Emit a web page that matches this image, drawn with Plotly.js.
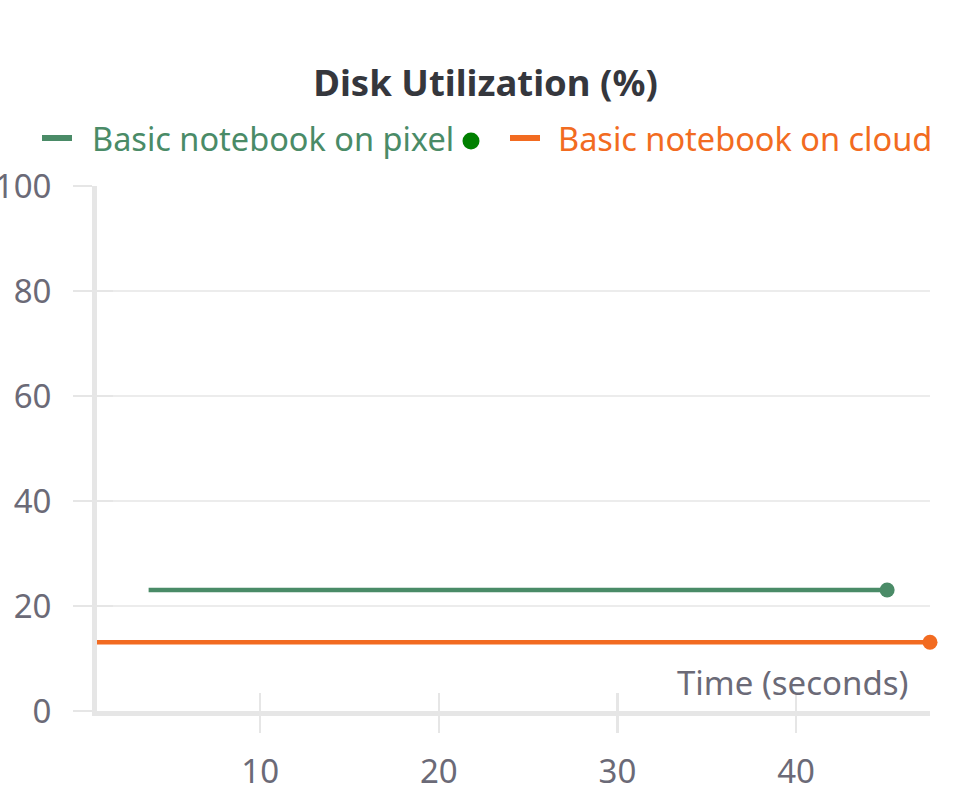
<!DOCTYPE html>
<html>
<head>
<meta charset="utf-8">
<script src="https://cdn.plot.ly/plotly-3.0.1.min.js"></script>
<style>
  html, body { margin: 0; padding: 0; background: #ffffff; }
  #chart { width: 971px; height: 785px; }
</style>
</head>
<body>
<div id="chart"></div>
<script>
// Data
const seriesNames = ["Basic notebook on pixel", "Basic notebook on cloud"];
const pixelTime = [3.75, 45.1];
const pixelDisk = [23.05, 23.05];
const cloudTime = [0.86, 47.5];
const cloudDisk = [13.1, 13.1];
const xTickVals = [10, 20, 30, 40];
const yTickVals = [0, 20, 40, 60, 80, 100];

const greenColor = "#4a8b67";
const orangeColor = "#f26b21";
const axisGray = "#e6e6e6";
const textGray = "#6b6a77";
const fontFamily = "'Noto Sans', 'Open Sans', sans-serif";

const seriesColors = [greenColor, orangeColor];

const traces = [
  {
    x: pixelTime, y: pixelDisk, name: seriesNames[0], type: "scatter", mode: "lines",
    line: { color: greenColor, width: 4.5 }, hoverinfo: "skip"
  },
  {
    x: cloudTime, y: cloudDisk, name: seriesNames[1], type: "scatter", mode: "lines",
    line: { color: orangeColor, width: 4.5 }, hoverinfo: "skip"
  },
  {
    x: [pixelTime[pixelTime.length - 1]], y: [pixelDisk[pixelDisk.length - 1]],
    type: "scatter", mode: "markers", cliponaxis: false,
    marker: { color: greenColor, size: 15 }, hoverinfo: "skip"
  },
  {
    x: [cloudTime[cloudTime.length - 1]], y: [cloudDisk[cloudDisk.length - 1]],
    type: "scatter", mode: "markers", cliponaxis: false,
    marker: { color: orangeColor, size: 15 }, hoverinfo: "skip"
  },
  // invisible trace to carry the secondary (inside-tick) axes
  {
    x: [cloudTime[0]], y: [0], xaxis: "x2", yaxis: "y2", type: "scatter", mode: "markers",
    marker: { opacity: 0 }, hoverinfo: "skip"
  }
];

// legend placement (pixel positions in the 971x785 figure)
const plotL = 97, plotR = 930, plotT = 186, plotB = 711;
const pxX = (px) => (px - plotL) / (plotR - plotL);
const pxY = (py) => (plotB - py) / (plotB - plotT);
const legendRowY = 138;
const legendSymbolStart = [42, 510];
const legendTextStart = [90, 556];

const shapes = [];
const annotations = [];
seriesNames.forEach((nm, i) => {
  shapes.push({
    type: "line", xref: "paper", yref: "paper",
    x0: pxX(legendSymbolStart[i]), x1: pxX(legendSymbolStart[i] + 30),
    y0: pxY(legendRowY), y1: pxY(legendRowY),
    line: { color: seriesColors[i], width: 6 }
  });
  annotations.push({
    text: nm, xref: "paper", yref: "paper",
    x: pxX(legendTextStart[i]), xanchor: "left",
    y: pxY(legendRowY), yanchor: "middle",
    showarrow: false, font: { family: fontFamily, size: 32.5, color: seriesColors[i] }
  });
});
// green "running" dot next to the first legend entry
shapes.push({
  type: "circle", xref: "paper", yref: "paper",
  xsizemode: "pixel", ysizemode: "pixel",
  xanchor: pxX(471), yanchor: pxY(141),
  x0: -8.5, x1: 8.5, y0: -8.5, y1: 8.5,
  fillcolor: "#008000", line: { width: 0 }
});
annotations.push({
  text: "Time (seconds)", xref: "paper", yref: "paper",
  x: pxX(910), xanchor: "right", y: pxY(682), yanchor: "middle",
  showarrow: false, font: { family: fontFamily, size: 33, color: textGray }
});

const layout = {
  width: 971, height: 785,
  paper_bgcolor: "#ffffff", plot_bgcolor: "#ffffff",
  margin: { l: plotL, r: 971 - plotR, t: plotT, b: 785 - plotB },
  font: { family: fontFamily, color: textGray, size: 33 },
  title: {
    text: "<b>Disk Utilization (%)</b>",
    font: { family: fontFamily, size: 36.5, color: "#35373d" },
    x: 0.5, xref: "container", xanchor: "center",
    y: 1 - 83 / 785, yref: "container", yanchor: "middle"
  },
  showlegend: false,
  xaxis: {
    range: [cloudTime[0], cloudTime[cloudTime.length - 1]],
    tickvals: xTickVals, ticktext: xTickVals.map(String),
    showgrid: false, zeroline: false,
    showline: true, linecolor: axisGray, linewidth: 5,
    ticks: "outside", ticklen: 17, tickwidth: 2.5, tickcolor: axisGray,
    tickfont: { family: fontFamily, size: 33, color: textGray },
    ticklabelstandoff: 10
  },
  yaxis: {
    range: [0, 100],
    tickvals: yTickVals, ticktext: yTickVals.map(String),
    showgrid: true, gridcolor: "#ececec", gridwidth: 2, zeroline: false,
    showline: true, linecolor: axisGray, linewidth: 5,
    ticks: "outside", ticklen: 19, tickwidth: 2.5, tickcolor: axisGray,
    tickfont: { family: fontFamily, size: 33, color: textGray },
    ticklabelstandoff: 15
  },
  xaxis2: {
    overlaying: "x", matches: "x", side: "bottom", anchor: "y2",
    tickvals: xTickVals, showticklabels: false, showgrid: false, zeroline: false,
    showline: false, ticks: "inside", ticklen: 18, tickwidth: 2.5, tickcolor: axisGray
  },
  yaxis2: {
    overlaying: "y", matches: "y", side: "left", anchor: "x2",
    tickvals: yTickVals, showticklabels: false, showgrid: false, zeroline: false,
    showline: false, ticks: "inside", ticklen: 16, tickwidth: 2.5, tickcolor: axisGray
  },
  shapes: shapes,
  annotations: annotations
};

Plotly.newPlot("chart", traces, layout, { staticPlot: true, displayModeBar: false });
</script>
</body>
</html>
